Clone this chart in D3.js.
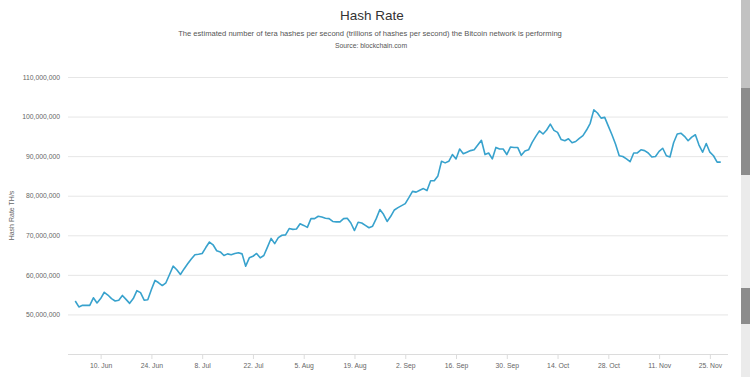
<!DOCTYPE html>
<html lang="en">
<head>
    <meta charset="UTF-8">
    <title>Hash Rate</title>
    <script type="text/javascript" src="https://d3js.org/d3.v7.min.js"></script>
    <style>
        body { margin:0; background:#fff; }
        text { font-family:"Liberation Sans", Arial, sans-serif; }
        .grid line { stroke:#e6e6e6; stroke-width:1px; }
        .line { fill:none; stroke:#38a2cd; stroke-width:1.6px; stroke-linejoin:round; }
    </style>
</head>
<body>
 <script type="text/javascript">
    // daily hash rate, millions of TH/s, starting 3 Jun 2019
    var startDate = "2019-06-03";
    var hashRate = [
        53.4,51.9,52.3,52.3,52.3,54.2,52.9,54.0,55.6,54.9,54.0,53.4,53.6,54.8,53.8,52.8,54.0,56.0,55.5,53.6,
        53.7,56.3,58.6,58.0,57.3,58.0,60.1,62.2,61.3,60.1,61.5,62.8,64.0,65.1,65.2,65.4,66.9,68.3,67.6,66.1,
        65.8,64.9,65.3,65.1,65.4,65.6,65.3,62.2,64.3,64.7,65.4,64.3,64.9,67.0,69.2,67.9,69.4,70.0,70.1,71.7,
        71.5,71.6,72.9,72.5,72.0,74.2,74.2,74.8,74.6,74.3,74.2,73.5,73.4,73.4,74.2,74.3,73.1,71.2,73.3,73.1,
        72.5,71.9,72.3,74.2,76.5,75.3,73.5,74.8,76.4,77.0,77.5,78.0,79.5,81.1,80.9,81.4,81.8,81.3,83.8,83.8,
        85.0,88.7,88.3,88.7,90.4,89.3,91.8,90.6,91.0,91.4,91.6,92.8,94.0,90.4,90.8,89.3,92.2,91.8,91.8,90.4,
        92.3,92.2,92.2,90.2,91.3,91.6,93.5,95.0,96.4,95.6,96.6,98.1,96.5,96.0,94.2,93.9,94.4,93.4,93.7,94.5,
        95.2,96.6,98.3,101.7,100.9,99.6,99.8,97.6,95.4,93.0,90.1,89.9,89.3,88.6,90.8,90.8,91.6,91.4,90.8,89.8,
        89.9,91.2,92.0,90.1,89.8,93.4,95.6,95.8,95.0,93.9,94.8,95.4,92.8,91.0,93.2,91.0,90.1,88.5,88.5
    ];
    var xTickDates = ["2019-06-10","2019-06-24","2019-07-08","2019-07-22","2019-08-05","2019-08-19","2019-09-02",
                      "2019-09-16","2019-09-30","2019-10-14","2019-10-28","2019-11-11","2019-11-25"];
    var yTicks = [50e6, 60e6, 70e6, 80e6, 90e6, 100e6, 110e6];
    var xDomain = ["2019-06-01","2019-11-30"];

    var width = 750, height = 377;
    var plotLeft = 68, plotRight = 728, plotTop = 77, plotBottom = 354;

    var parse = d3.utcParse("%Y-%m-%d");
    var start = parse(startDate);
    var data = hashRate.map(function(v, i){ return {date:d3.utcDay.offset(start, i), value:v*1e6}; });

    var svg = d3.select("body").append("svg")
                .attr("width",width).attr("height",height);

    var xScale = d3.scaleUtc()
                   .domain(xDomain.map(parse))
                   .range([plotLeft,plotRight]);
    var yScale = d3.scaleLinear()
                   .domain([40e6,110e6])
                   .range([plotBottom,plotTop]);

    // titles
    svg.append("text").attr("x",372).attr("y",20).attr("text-anchor","middle")
       .style("font-size","13.5px").style("fill","#333").text("Hash Rate");
    svg.append("text").attr("x",370).attr("y",35.5).attr("text-anchor","middle")
       .style("font-size","7.6px").style("fill","#555")
       .text("The estimated number of tera hashes per second (trillions of hashes per second) the Bitcoin network is performing");
    svg.append("text").attr("x",371).attr("y",47.5).attr("text-anchor","middle")
       .style("font-size","6.8px").style("fill","#555").text("Source: blockchain.com");

    // grid + y labels
    var yAxis = d3.axisLeft(yScale).tickValues(yTicks).tickFormat(d3.format(","))
                  .tickSize(-(plotRight-plotLeft)).tickPadding(8);
    var yAxisGroup = svg.append("g").attr("class","grid").attr("transform","translate("+plotLeft+",0)");
    yAxisGroup.call(yAxis);
    yAxisGroup.select(".domain").remove();
    yAxisGroup.selectAll("text").style("font-size","6.8px").style("fill","#666");

    svg.append("text").attr("transform","translate(14,"+((plotTop+plotBottom)/2)+") rotate(-90)")
       .attr("text-anchor","middle").style("font-size","7px").style("fill","#666").text("Hash Rate TH/s");

    // x axis
    var xAxis = d3.axisBottom(xScale).tickValues(xTickDates.map(parse))
                  .tickFormat(d3.utcFormat("%-d. %b")).tickSize(5).tickPadding(4);
    var xAxisGroup = svg.append("g").attr("transform","translate(0,"+plotBottom+")");
    xAxisGroup.call(xAxis);
    xAxisGroup.select(".domain").attr("d","M"+plotLeft+",0.5H"+plotRight).style("stroke","#dcdcdc");
    xAxisGroup.selectAll(".tick line").style("stroke","#dcdcdc");
    xAxisGroup.selectAll("text").style("font-size","6.8px").style("fill","#666");

    // line
    var line = d3.line()
                 .x(function(d){ return xScale(d.date); })
                 .y(function(d){ return yScale(d.value); });
    svg.append("path").attr("class","line").attr("d",line(data));

    // page scrollbar at the right edge
    var bar = svg.append("g").attr("transform","translate(741,0)");
    bar.append("rect").attr("width",9).attr("height",377).style("fill","#ebebeb");
    bar.append("rect").attr("width",9).attr("height",88).style("fill","#c2c2c2");
    bar.append("rect").attr("y",88).attr("width",9).attr("height",87).style("fill","#8c8c8c");
    bar.append("rect").attr("y",288).attr("width",9).attr("height",36).style("fill","#8c8c8c");
 </script>
</body>
</html>
